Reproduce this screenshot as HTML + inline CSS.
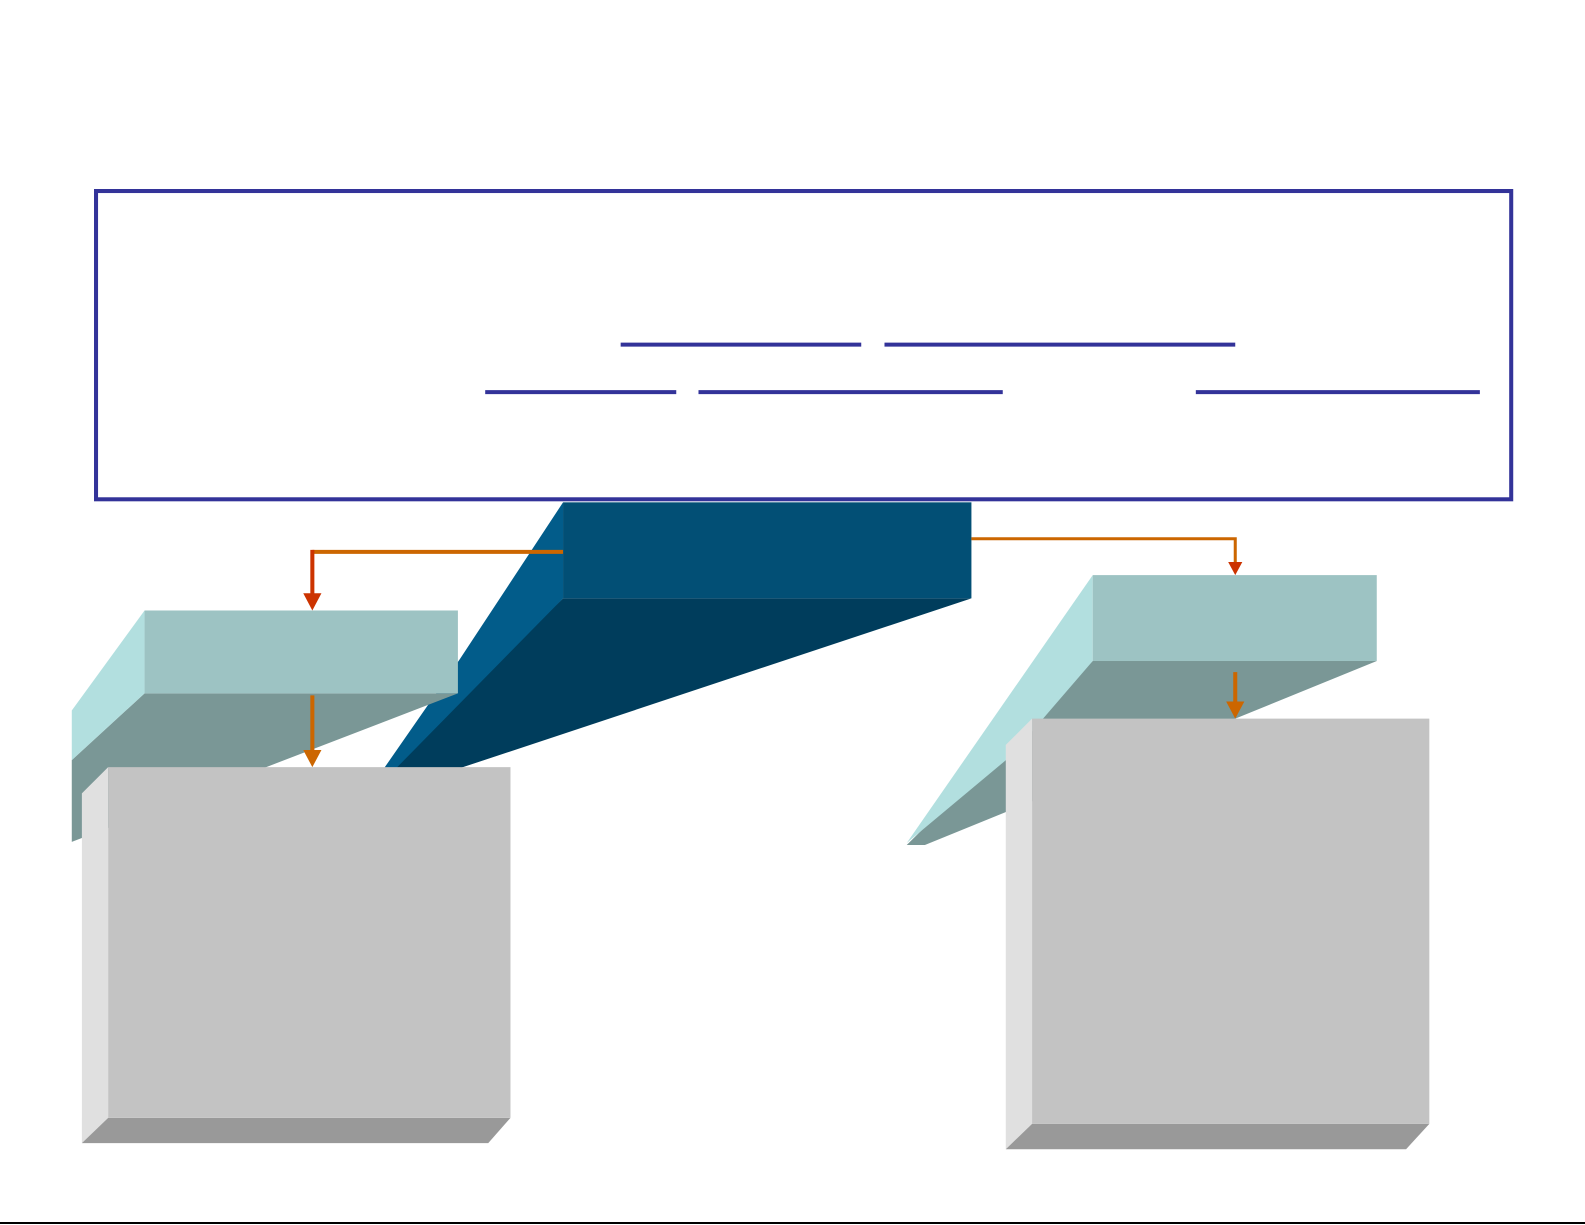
<!DOCTYPE html>
<html><head><meta charset="utf-8"><style>html,body{margin:0;padding:0;background:#fff;overflow:hidden}svg{display:block}</style></head>
<body>
<svg width="1585" height="1225" viewBox="0 0 1568 1212" preserveAspectRatio="none" xmlns="http://www.w3.org/2000/svg">
<rect x="95" y="189" width="1400" height="305" fill="none" stroke="#333399" stroke-width="4"/>
<g stroke="#333399" stroke-width="4">
<line x1="614" y1="341" x2="852" y2="341"/><line x1="875" y1="341" x2="1222" y2="341"/>
<line x1="480" y1="388" x2="669" y2="388"/><line x1="691" y1="388" x2="992" y2="388"/><line x1="1183" y1="388" x2="1464" y2="388"/>
</g>
<polygon points="557,592 961,592 455,760 382,760" fill="#003D5C"/>
<polygon points="557,497 557,592 392,760 380,760 455,652" fill="#025C8A"/>
<rect x="557" y="497" width="404" height="95" fill="#024F75"/>
<polygon points="143,686 453,686 71,833 71,752" fill="#7A9796"/>
<polygon points="143,604 71,703 71,752 143,686" fill="#B2DFDF"/>
<rect x="143" y="604" width="310" height="82" fill="#9DC3C3"/>
<polygon points="1081,654 1362,654 915,836 897,836" fill="#7A9796"/>
<polygon points="1081,569 897,834 1000,748 1081,654" fill="#B2DFDF"/>
<rect x="1081" y="569" width="281" height="85" fill="#9DC3C3"/>
<polygon points="81,785 107,759 107,1106 81,1131" fill="#E0E0E0"/>
<polygon points="107,1106 505,1106 483,1131 81,1131" fill="#999999"/>
<rect x="107" y="759" width="398" height="347" fill="#C3C3C3"/>
<polygon points="995,737 1021,711 1021,1112 995,1137" fill="#E0E0E0"/>
<polygon points="1021,1112 1414,1112 1391,1137 995,1137" fill="#999999"/>
<rect x="1021" y="711" width="393" height="401" fill="#C3C3C3"/>
<polyline points="557,546 309,546" fill="none" stroke="#CC6600" stroke-width="4"/>
<line x1="309" y1="544" x2="309" y2="590" stroke="#CC3300" stroke-width="4"/>
<polygon points="300,587 318,587 309,604" fill="#CC3300"/>
<line x1="309" y1="688" x2="309" y2="745" stroke="#CC6600" stroke-width="4"/>
<polygon points="300,742 318,742 309,759" fill="#CC6600"/>
<polyline points="961,533 1222,533 1222,558" fill="none" stroke="#CC6600" stroke-width="3"/>
<polygon points="1215,556 1229,556 1222,569" fill="#CC3300"/>
<line x1="1222" y1="665" x2="1222" y2="697" stroke="#CC6600" stroke-width="4"/>
<polygon points="1213,694 1231,694 1222,711" fill="#CC6600"/>
<line x1="0" y1="1210" x2="1568" y2="1210" stroke="#000" stroke-width="2"/>
</svg>
</body></html>
